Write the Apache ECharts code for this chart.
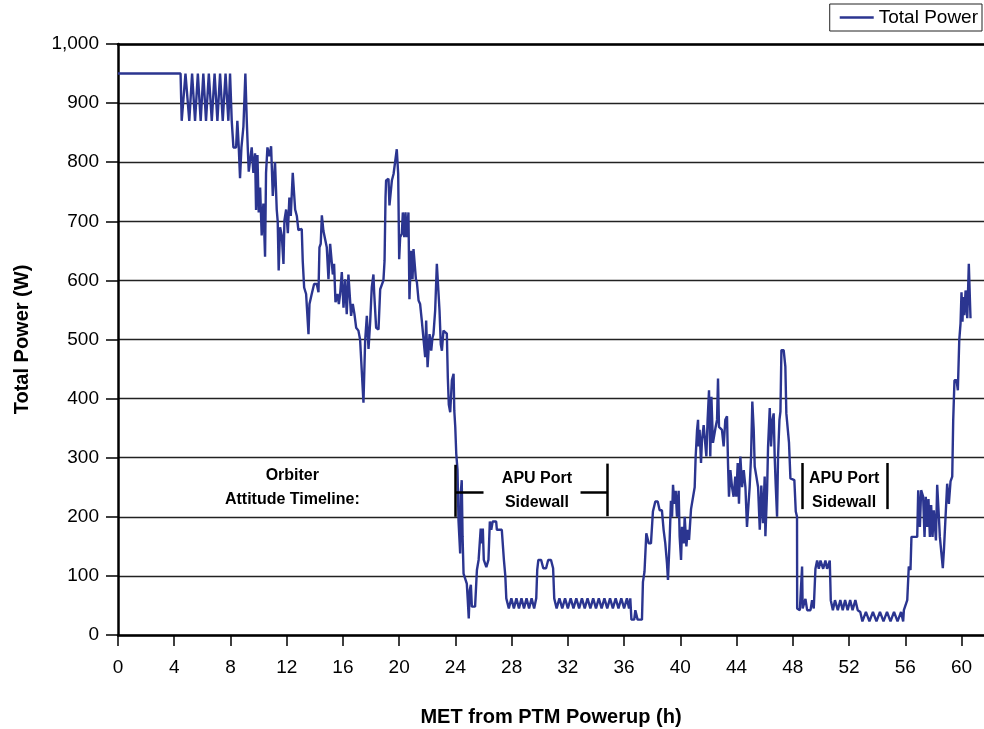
<!DOCTYPE html>
<html>
<head>
<meta charset="utf-8">
<script src="https://cdn.jsdelivr.net/npm/echarts@6/dist/echarts.min.js"></script>
<style>html,body{margin:0;background:#fff}#chart{width:984px;height:729px}</style>
</head>
<body>
<div id="chart"></div>
<script>
var FONT = '"Liberation Sans", Arial, sans-serif';

// [MET hours, total power W] in pieces
var powerupSeg = [[0,950],[4.45,950],[4.53,870],[4.8,950],[5.07,870],[5.27,950],[5.48,870],[5.68,950],[5.88,870],[6.07,950],[6.26,870],[6.46,950],[6.67,870],[6.87,950],[7.07,870],[7.26,950],[7.45,870],[7.65,950],[7.85,870],[7.97,950],[8.09,870],[8.21,825],[8.4,825],[8.49,870],[8.59,825],[8.68,773],[8.78,825],[8.92,860],[9.06,950],[9.16,870],[9.23,825],[9.3,784],[9.39,784],[9.51,825],[9.63,782],[9.75,815],[9.82,719],[9.92,812],[10.01,715],[10.11,757],[10.22,676],[10.34,730],[10.46,640],[10.53,782],[10.63,825],[10.77,810],[10.89,827],[11.01,743],[11.17,800],[11.29,720],[11.36,700],[11.43,617],[11.53,690],[11.65,676],[11.77,628],[11.84,702],[11.96,720],[12.08,680],[12.19,740],[12.29,709],[12.43,782],[12.53,784],[12.6,720],[12.72,709],[12.83,685]];

var declineSeg = [[12.95,687],[13.07,687],[13.14,633],[13.24,588],[13.38,577],[13.55,509],[13.62,560],[13.78,577],[13.95,594],[14.14,594],[14.26,580],[14.33,656],[14.42,662],[14.5,710],[14.61,684],[14.73,684],[14.85,656],[14.97,602],[15.09,662],[15.21,662],[15.28,610],[15.37,628],[15.47,563],[15.61,577],[15.71,560],[15.8,577],[15.92,614],[16.04,554],[16.16,602],[16.27,543],[16.39,610],[16.51,610],[16.58,540],[16.7,560],[16.82,543],[16.94,520],[17.1,515],[17.22,500],[17.34,498],[17.46,393],[17.58,498],[17.7,540],[17.82,484],[17.94,531],[18.05,588],[18.17,610],[18.22,580],[18.36,520],[18.53,517],[18.65,585],[18.77,585],[18.88,600],[18.96,633],[19.03,741],[19.07,769],[19.24,772],[19.31,727],[19.41,724],[19.48,769],[19.6,780],[19.72,783],[19.83,822],[19.93,780],[20.0,636],[20.07,673],[20.19,679],[20.26,715],[20.36,673],[20.45,715],[20.54,673],[20.66,715],[20.73,568],[20.85,650],[20.95,602],[21.02,653],[21.14,653],[21.19,602],[21.26,597],[21.38,566],[21.49,560],[21.61,532],[21.73,532],[21.85,470],[21.92,532],[22.02,453],[22.16,509],[22.28,481],[22.37,503],[22.44,509],[22.56,549],[22.68,628],[22.8,628],[22.87,549],[22.96,492],[23.04,481],[23.15,515],[23.27,515],[23.39,510],[23.46,436],[23.53,390],[23.63,377],[23.75,431],[23.87,442],[23.92,380],[23.99,352],[24.06,307],[24.15,279],[24.22,194],[24.34,138],[24.38,240],[24.45,262],[24.51,166],[24.58,104]];

var sidewallSeg1 = [[24.7,104],[24.81,87],[24.88,59],[24.95,28],[25.02,76],[25.1,85],[25.17,48],[25.4,48],[25.53,110],[25.65,127],[25.75,127],[25.8,180],[25.88,155],[25.95,180],[26.02,127],[26.15,127],[26.2,115],[26.35,127],[26.45,192],[26.55,178],[26.65,192],[26.9,192],[26.95,178],[27.3,178],[27.45,127],[27.55,100],[27.62,62],[27.8,45],[27.98,62],[28.16,45],[28.34,62],[28.52,45],[28.7,62],[28.88,45],[29.06,62],[29.24,45],[29.42,62],[29.6,45],[29.75,62],[29.82,110],[29.9,127],[30.1,127],[30.25,113],[30.45,113],[30.6,127],[30.8,127],[30.95,113],[31.03,62],[31.2,45],[31.4,62],[31.6,45],[31.8,62],[32.0,45],[32.2,62],[32.4,45],[32.6,62],[32.8,45],[33.0,62],[33.2,45],[33.4,62],[33.6,45],[33.8,62],[34.0,45],[34.2,62],[34.4,45],[34.6,62],[34.8,45],[35.0,62],[35.2,45],[35.4,62],[35.6,45],[35.8,62],[36.0,45],[36.2,62],[36.35,45],[36.44,62],[36.52,26],[36.72,26],[36.8,42],[36.9,42],[36.96,26],[37.27,26],[37.34,90],[37.45,107],[37.52,107],[37.58,172]];

var middaySeg = [[37.75,155],[37.91,155],[38.05,209],[38.22,226],[38.39,226],[38.53,211],[38.69,211],[38.81,178],[38.93,155],[39.05,121],[39.12,93],[39.24,161],[39.33,227],[39.41,200],[39.48,254],[39.57,222],[39.67,244],[39.76,200],[39.88,244],[39.95,167],[40.05,127],[40.12,183],[40.24,155],[40.31,200],[40.43,150],[40.52,178],[40.62,161],[40.76,213],[40.9,213],[41.02,250],[41.09,302],[41.19,347],[41.26,364],[41.3,319],[41.37,347],[41.47,291],[41.54,330],[41.66,355],[41.78,355],[41.85,302],[41.94,364],[42.04,414],[42.13,302],[42.21,403],[42.32,325],[42.42,325],[42.51,352],[42.61,364],[42.68,434],[42.75,352],[42.85,352],[42.96,347],[43.08,319],[43.2,364],[43.32,370],[43.39,291],[43.46,234],[43.56,279],[43.68,250],[43.79,234],[43.91,268],[43.98,234],[44.08,291],[44.17,222],[44.27,302],[44.39,250],[44.51,279],[44.63,250],[44.74,183],[44.86,183],[44.93,250],[45.03,302],[45.12,395],[45.22,347],[45.29,285],[45.41,268],[45.53,250],[45.65,178],[45.76,253],[45.88,189],[46.0,268],[46.05,167],[46.17,244],[46.24,319],[46.36,384],[46.45,319],[46.55,364],[46.64,375],[46.71,302],[46.78,256],[46.88,200],[46.95,302],[47.05,364],[47.12,378],[47.19,482],[47.35,482],[47.47,454],[47.54,375],[47.64,375],[47.73,325],[47.83,265],[47.95,262],[48.11,262],[48.21,209],[48.3,200]];

var sidewallSeg2 = [[48.31,45],[48.5,42],[48.62,45],[48.66,116],[48.7,45],[48.9,61],[49.02,42],[49.26,42],[49.37,59],[49.49,45],[49.58,45],[49.61,112],[49.73,126],[49.85,112],[49.97,126],[50.16,112],[50.32,126],[50.44,112],[50.63,126],[50.7,59],[50.85,42],[51.0,59],[51.2,42],[51.38,59],[51.55,42],[51.72,59],[51.9,42],[52.08,59],[52.25,42],[52.45,59],[52.62,42],[52.75,42],[52.8,39],[52.95,23],[53.2,39],[53.45,23],[53.7,39],[53.95,23],[54.2,39],[54.45,23],[54.7,39],[54.95,23],[55.2,39],[55.45,23],[55.7,39],[55.85,23],[55.9,42],[56.14,59],[56.25,116],[56.37,110],[56.44,166],[56.85,166],[56.92,245],[57.04,183],[57.13,245],[57.27,234],[57.37,166],[57.46,234],[57.56,183],[57.65,230],[57.75,166],[57.84,220],[57.94,166],[58.03,211],[58.18,160],[58.27,254],[58.39,200],[58.46,166],[58.58,166],[58.67,113],[58.75,144],[58.86,144],[58.98,256],[59.1,222],[59.22,260],[59.34,268],[59.41,364],[59.5,431],[59.65,431],[59.74,414],[59.84,499],[59.93,527],[60.0,580],[60.07,530],[60.12,572],[60.2,541],[60.29,583],[60.41,536],[60.52,628],[60.6,566],[60.64,536]];

var totalPower = [].concat(powerupSeg, declineSeg, sidewallSeg1, middaySeg, sidewallSeg2);

// attitude timeline brackets, in data coords
var bracketSegs = [
  [[24,288],[24,200]], [[24,242],[26,242]], [[32.9,242],[34.8,242]], [[34.8,290],[34.8,201]],
  [[48.66,291],[48.66,213]], [[54.7,291],[54.7,213]]
];
var notes = [
  {at:[12.4,249], text:'Orbiter\nAttitude Timeline:'},
  {at:[29.8,245], text:'APU Port\nSidewall'},
  {at:[51.65,245], text:'APU Port\nSidewall'}
];

var chart = echarts.init(document.getElementById('chart'));
var option = {
  animation: false,
  textStyle: {fontFamily: FONT},
  grid: {left: 118, right: 0, top: 44, bottom: 94, containLabel: false, outerBoundsMode: 'none'},
  legend: {
    right: 2, top: 4, padding: [4, 4, 4, 10],
    borderColor: '#222', borderWidth: 1,
    icon: 'rect', itemWidth: 34, itemHeight: 2.5,
    textStyle: {fontFamily: FONT, fontSize: 19, color: '#000'},
    data: ['Total Power']
  },
  xAxis: [{
    type: 'value', min: 0, max: 61.6, interval: 4,
    name: 'MET from PTM Powerup (h)', nameLocation: 'middle', nameGap: 72,
    nameTextStyle: {fontFamily: FONT, fontSize: 20, fontWeight: 'bold', color: '#000'},
    axisLine: {lineStyle: {color: '#000', width: 2.5}},
    axisTick: {length: 11, lineStyle: {color: '#000', width: 1.5}},
    axisLabel: {margin: 23, fontSize: 19, color: '#000', showMaxLabel: false,
      formatter: function (v) { return v % 4 === 0 ? String(v) : ''; }},
    splitLine: {show: false}
  }, {
    type: 'value', position: 'top', min: 0, max: 61.6,
    axisLine: {show: true, onZero: false, lineStyle: {color: '#000', width: 2.5}},
    axisTick: {show: false}, axisLabel: {show: false}, splitLine: {show: false}
  }],
  yAxis: {
    type: 'value', min: 0, max: 1000, interval: 100,
    name: 'Total Power (W)', nameLocation: 'middle', nameGap: 86,
    nameTextStyle: {fontFamily: FONT, fontSize: 20, fontWeight: 'bold', color: '#000'},
    axisLine: {show: true, lineStyle: {color: '#000', width: 2.5}},
    axisTick: {show: true, length: 12, lineStyle: {color: '#000', width: 1.5}},
    axisLabel: {margin: 19, fontSize: 19, color: '#000'},
    splitLine: {lineStyle: {color: '#222', width: 1.4}}
  },
  series: [{
    name: 'Total Power', type: 'line', data: totalPower,
    showSymbol: false, symbol: 'none',
    lineStyle: {color: '#2b3590', width: 2.4},
    itemStyle: {color: '#2b3590'},
    markLine: {
      silent: true, symbol: ['none', 'none'], label: {show: false},
      lineStyle: {color: '#000', width: 2.5, type: 'solid'},
      data: bracketSegs.map(function (s) { return [{coord: s[0]}, {coord: s[1]}]; })
    }
  }]
};
chart.setOption(option);

chart.setOption({
  graphic: notes.map(function (n) {
    var p = chart.convertToPixel({gridIndex: 0}, n.at);
    return {
      type: 'text', x: p[0], y: p[1], silent: true,
      style: {text: n.text, fill: '#000', font: 'bold 16px ' + FONT,
        textAlign: 'center', textVerticalAlign: 'middle', lineHeight: 24}
    };
  })
});
</script>
</body>
</html>
